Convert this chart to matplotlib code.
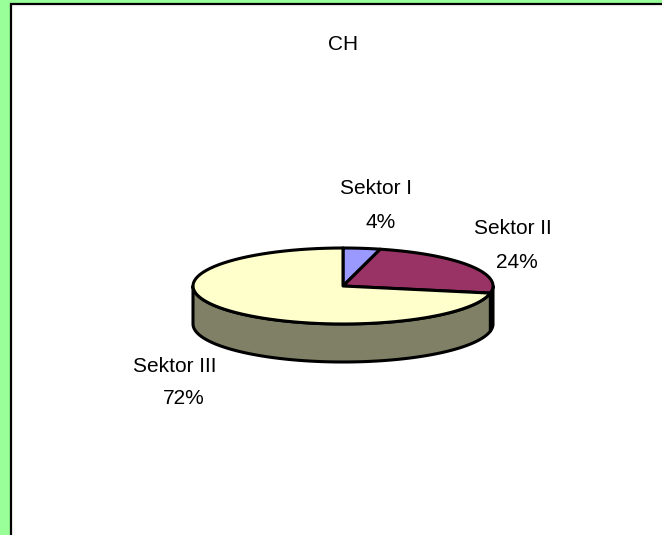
import numpy as np
import matplotlib
matplotlib.use("Agg")
import matplotlib.pyplot as plt
from matplotlib.patches import Polygon, Rectangle

# -- data -----------------------------------------------------------------
title = "CH"
sectors = ["Sektor I", "Sektor II", "Sektor III"]
shares = [4, 24, 72]
top_colors = ["#9999FF", "#993366", "#FFFFCC"]
side_colors = ["#4C4C80", "#4C1933", "#808066"]

# -- geometry (pixel space) -------------------------------------------------
W, H = 662, 535
cx, cy = 343, 286        # pie centre
a, b = 150, 38           # ellipse radii
depth = 38               # pie thickness

fig = plt.figure(figsize=(W / 100, H / 100), dpi=100)
fig.patch.set_facecolor("#99FF99")
ax = fig.add_axes([0, 0, 1, 1])
ax.set_xlim(0, W)
ax.set_ylim(H, 0)
ax.axis("off")

# white chart area with black frame
ax.add_patch(Rectangle((11, 4), W, H, facecolor="white", edgecolor="black", linewidth=1.6))


def rim(t1, t2, n=80):
    t = np.radians(np.linspace(t1, t2, n))
    return np.column_stack([cx + a * np.sin(t), cy - b * np.cos(t)])


# angles clockwise from 12 o'clock
bounds = np.concatenate([[0], np.cumsum(shares) / sum(shares) * 360])

# side walls (only the front half is visible: 90..270 deg)
for i in range(len(shares)):
    t1, t2 = max(bounds[i], 90), min(bounds[i + 1], 270)
    if t2 <= t1:
        continue
    top = rim(t1, t2)
    bot = top[::-1] + [0, depth]
    ax.add_patch(Polygon(np.vstack([top, bot]), closed=True, facecolor=side_colors[i],
                         edgecolor="black", linewidth=2.2, joinstyle="round"))

# top faces
for i in range(len(shares)):
    pts = np.vstack([[cx, cy], rim(bounds[i], bounds[i + 1])])
    ax.add_patch(Polygon(pts, closed=True, facecolor=top_colors[i],
                         edgecolor="black", linewidth=2.2, joinstyle="round"))

# labels
font = dict(family="Liberation Sans", fontsize=15, color="black", ha="center", va="center")
ax.text(343, 44, title, **font)
label_pos = [((376, 188), (381, 222)), ((513, 228), (517, 262)), ((175, 366), (184, 398))]
for name, pct, (p1, p2) in zip(sectors, shares, label_pos):
    ax.text(*p1, name, **font)
    ax.text(*p2, f"{pct}%", **font)

fig.savefig("out.png", dpi=100, facecolor=fig.get_facecolor())
